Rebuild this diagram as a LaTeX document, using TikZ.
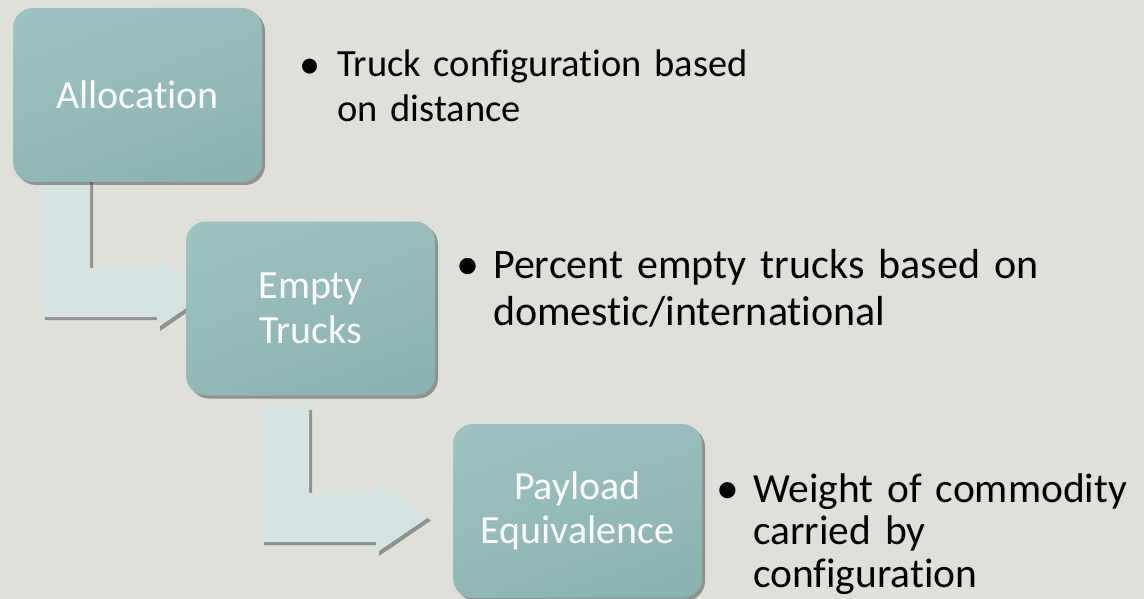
\documentclass[tikz,border=0pt]{standalone}
\usepackage{fontspec}
\usepackage{graphicx}
\setmainfont[Ligatures={NoCommon,NoContextual}]{Carlito}
\usetikzlibrary{calc,shadows}
\definecolor{bg}{HTML}{E0E0DA}
\definecolor{boxtop}{HTML}{9CC2C1}
\definecolor{boxbot}{HTML}{8AB4B3}
\definecolor{arrowfill}{HTML}{D5E3E3}
\newcommand{\bigbul}{\raisebox{-1.5pt}{\scalebox{1.1}{•}}}
\tikzset{
  procbox/.style={rounded corners=20pt, minimum width=249pt, minimum height=174pt,
    inner sep=0pt, text=white, font=\fontsize{40}{44.5}\selectfont, align=center,
    top color=boxtop, bottom color=boxbot, shading angle=20,
    drop shadow={shadow xshift=3pt, shadow yshift=-3pt, opacity=.45, fill=black!80}},
  bentarrow/.style={fill=arrowfill,
    drop shadow={shadow xshift=3pt, shadow yshift=-3pt, opacity=.45, fill=black!80}},
  bullettext/.style={anchor=base west, inner sep=0pt, text=black, align=left, text width=600pt}
}
\begin{document}
\begin{tikzpicture}[x=1pt,y=-1pt]
\fill[bg] (0,0) rectangle (1144,599);
\useasboundingbox (0,0) rectangle (1144,599);
\coordinate (a1) at (42,170);
\coordinate (a2) at (261,407);
% bent arrows
\fill[bentarrow] (a1) -- ++(48,0) -- ++(0,98) -- ++(67,0) -- ++(0,-11) -- ++(52,35.5)
  -- ++(-52,35.5) -- ++(0,-11) -- ++(-115,0) -- cycle;
\fill[bentarrow] (a2) -- ++(48,0) -- ++(0,86) -- ++(67,0) -- ++(0,-11) -- ++(52,35.5)
  -- ++(-52,35.5) -- ++(0,-11) -- ++(-115,0) -- cycle;
% boxes
\node[procbox] (alloc) at (137.5,95) {Allocation};
\node[procbox] (empty) at (310.5,308.5) {Empty\\Trucks};
\node[procbox] (payload) at (577.5,511) {Payload\\Equivalence};
% bullets
\node[bullettext, font=\fontsize{38.5}{45}\selectfont] (b1) at (299,77)
  {\leftskip=38pt\hspace*{-38pt}\makebox[38pt][l]{\bigbul}Truck configuration based\newline on distance\par};
\node[bullettext, font=\fontsize{42}{47}\selectfont] (b2) at (456,278)
  {\leftskip=37pt\hspace*{-37pt}\makebox[37pt][l]{\bigbul}Percent empty trucks based on\newline domestic/international\par};
\node[bullettext, font=\fontsize{41.5}{42.5}\selectfont] (b3) at (716,502)
  {\leftskip=37pt\hspace*{-37pt}\makebox[37pt][l]{\bigbul}Weight of commodity\newline carried by\newline configuration\par};
\end{tikzpicture}
\end{document}
